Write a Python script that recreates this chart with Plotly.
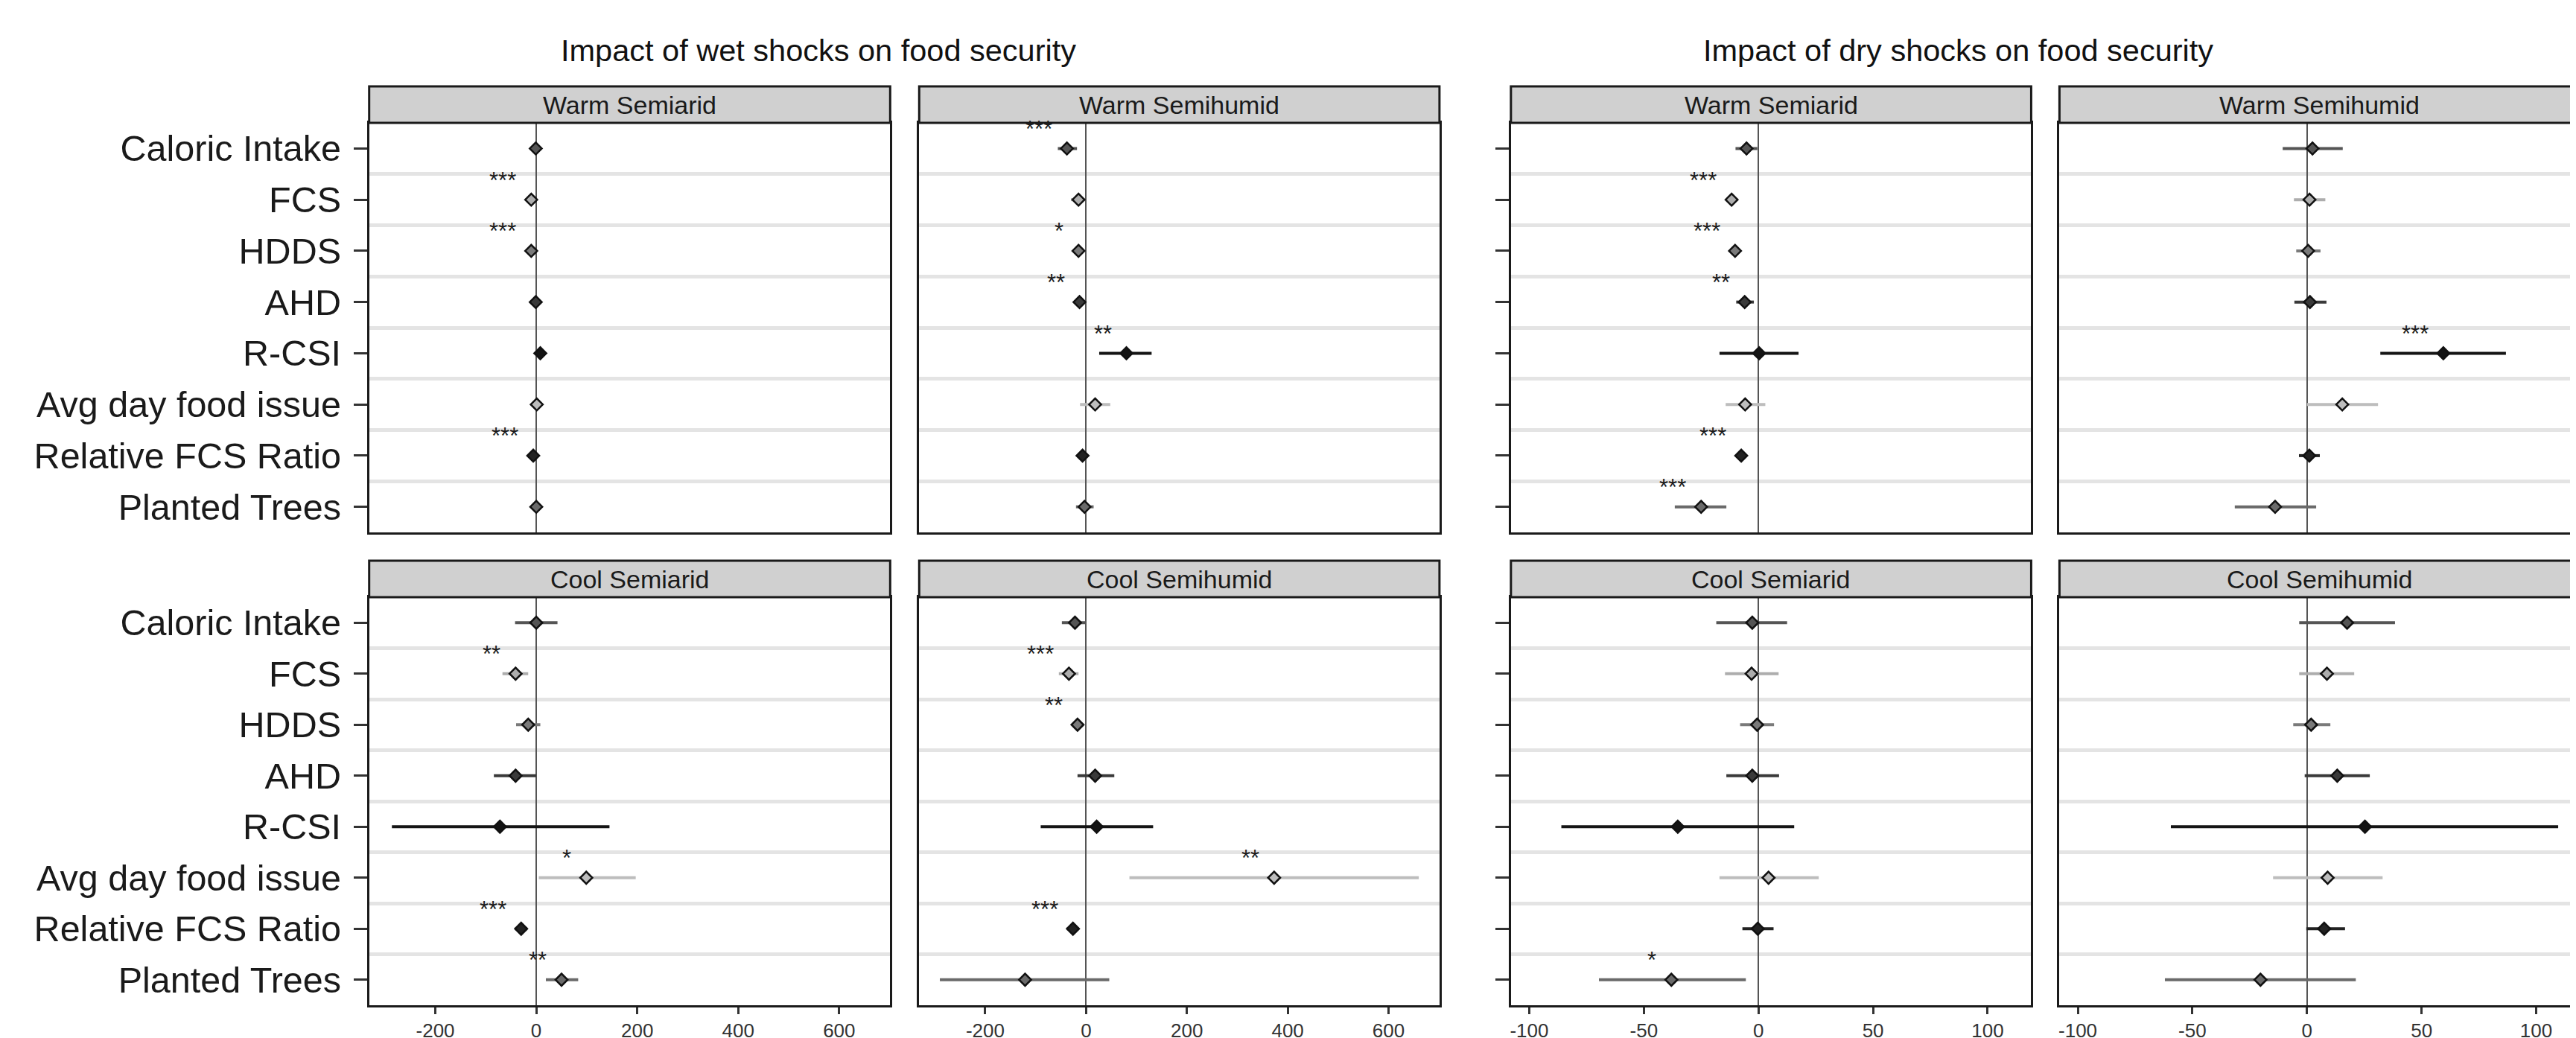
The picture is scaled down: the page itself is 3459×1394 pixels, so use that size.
import plotly.graph_objects as go

W, H = 3459, 1394

categories = ["Caloric Intake", "FCS", "HDDS", "AHD", "R-CSI",
              "Avg day food issue", "Relative FCS Ratio", "Planted Trees"]
category_colors = ["#555555", "#adadad", "#7a7a7a", "#3a3a3a",
                   "#141414", "#bdbdbd", "#222222", "#6a6a6a"]

wet_ticks = [-200, 0, 200, 400, 600]
dry_ticks = [-100, -50, 0, 50, 100]

group_titles = ["Impact of wet shocks on food security",
                "Impact of dry shocks on food security"]
panel_titles = ["Warm Semiarid", "Warm Semihumid", "Cool Semiarid", "Cool Semihumid"]

# ---- Wet shocks ----
wet_warm_semiarid_est = [-1, -10, -10, -1, 8, 1, -6, 0]
wet_warm_semiarid_lo = [-5, -15, -14, -5, 0, -4, -10, -5]
wet_warm_semiarid_hi = [3, -5, -6, 3, 16, 6, -2, 5]
wet_warm_semiarid_sig = ["", "***", "***", "", "", "", "***", ""]

wet_warm_semihumid_est = [-38, -15, -15, -13, 80, 18, -7, -3]
wet_warm_semihumid_lo = [-56, -30, -22, -20, 26, -12, -14, -20]
wet_warm_semihumid_hi = [-18, -2, -8, -6, 130, 48, 0, 15]
wet_warm_semihumid_sig = ["***", "", "*", "**", "**", "", "", ""]

wet_cool_semiarid_est = [0, -41, -16, -41, -72, 99, -30, 50]
wet_cool_semiarid_lo = [-42, -67, -40, -84, -286, 5, -42, 19]
wet_cool_semiarid_hi = [42, -16, 8, 0, 145, 197, -18, 83]
wet_cool_semiarid_sig = ["", "**", "", "", "", "*", "***", "**"]

wet_cool_semihumid_est = [-22, -34, -17, 18, 21, 373, -26, -121]
wet_cool_semihumid_lo = [-48, -54, -28, -17, -90, 86, -38, -290]
wet_cool_semihumid_hi = [0, -15, -6, 56, 133, 660, -15, 46]
wet_cool_semihumid_sig = ["", "***", "**", "", "", "**", "***", ""]

# ---- Dry shocks ----
dry_warm_semiarid_est = [-5.2, -11.7, -10.2, -6, 0.3, -5.8, -7.5, -25]
dry_warm_semiarid_lo = [-10, -14, -12, -9.7, -17, -14.3, -9.5, -36.5]
dry_warm_semiarid_hi = [-0.5, -9, -8.5, -2, 17.5, 3, -5.5, -14]
dry_warm_semiarid_sig = ["", "***", "***", "**", "", "", "***", "***"]

dry_warm_semihumid_est = [2.4, 1.1, 0.5, 1.3, 59.5, 15.4, 1, -13.9]
dry_warm_semihumid_lo = [-10.6, -5.7, -4.7, -5.5, 32, 0, -3.5, -31.5]
dry_warm_semihumid_hi = [15.6, 8, 5.9, 8.5, 86.8, 31, 5.6, 4]
dry_warm_semihumid_sig = ["", "", "", "", "***", "", "", ""]

dry_cool_semiarid_est = [-2.7, -3, -0.6, -2.7, -35.2, 4.4, -0.3, -38]
dry_cool_semiarid_lo = [-18.4, -14.6, -8, -14, -86, -17, -7, -69.6]
dry_cool_semiarid_hi = [12.5, 8.8, 6.8, 9, 15.6, 26.3, 6.6, -5.5]
dry_cool_semiarid_sig = ["", "", "", "", "", "", "", "*"]

dry_cool_semihumid_est = [17.5, 8.7, 1.8, 13.2, 25.3, 9, 7.5, -20.3]
dry_cool_semihumid_lo = [-3.4, -3.4, -6, -1, -59.4, -14.8, -0.3, -62]
dry_cool_semihumid_hi = [38.4, 20.6, 10.2, 27.4, 109.6, 33, 16.6, 21.3]
dry_cool_semihumid_sig = ["", "", "", "", "", "", "", ""]

wet_range = [-331, 701]
dry_range = [-108, 119]

# panels: (row, col, est, lo, hi, sig, ticks, range, title)
panels = [
    (0, 0, wet_warm_semiarid_est, wet_warm_semiarid_lo, wet_warm_semiarid_hi, wet_warm_semiarid_sig, wet_ticks, wet_range, panel_titles[0]),
    (0, 1, wet_warm_semihumid_est, wet_warm_semihumid_lo, wet_warm_semihumid_hi, wet_warm_semihumid_sig, wet_ticks, wet_range, panel_titles[1]),
    (0, 2, dry_warm_semiarid_est, dry_warm_semiarid_lo, dry_warm_semiarid_hi, dry_warm_semiarid_sig, dry_ticks, dry_range, panel_titles[0]),
    (0, 3, dry_warm_semihumid_est, dry_warm_semihumid_lo, dry_warm_semihumid_hi, dry_warm_semihumid_sig, dry_ticks, dry_range, panel_titles[1]),
    (1, 0, wet_cool_semiarid_est, wet_cool_semiarid_lo, wet_cool_semiarid_hi, wet_cool_semiarid_sig, wet_ticks, wet_range, panel_titles[2]),
    (1, 1, wet_cool_semihumid_est, wet_cool_semihumid_lo, wet_cool_semihumid_hi, wet_cool_semihumid_sig, wet_ticks, wet_range, panel_titles[3]),
    (1, 2, dry_cool_semiarid_est, dry_cool_semiarid_lo, dry_cool_semiarid_hi, dry_cool_semiarid_sig, dry_ticks, dry_range, panel_titles[2]),
    (1, 3, dry_cool_semihumid_est, dry_cool_semihumid_lo, dry_cool_semihumid_hi, dry_cool_semihumid_sig, dry_ticks, dry_range, panel_titles[3]),
]

# layout geometry (pixels)
col_x = [(487, 1187), (1226, 1925), (2021, 2720), (2758, 3457)]
row_panel_y = [(157, 707), (794, 1342)]
row_strip_y = [(108, 157), (745, 794)]
title_x = [1091, 2622]
title_y = 59

FONT = "Liberation Sans, Arial, Helvetica, sans-serif"

def fx(px):
    return px / W

def fy(py):
    return 1 - py / H

fig = go.Figure()
layout = dict(
    width=W, height=H,
    margin=dict(l=0, r=0, t=0, b=0),
    paper_bgcolor="white", plot_bgcolor="white",
    showlegend=False,
    font=dict(family=FONT, color="#1a1a1a"),
)
shapes = []
annotations = []
ypos = list(range(len(categories)))
half = [i + 0.5 for i in range(len(categories) - 1)]

for k, (r, c, est, lo, hi, sig, ticks, xr, ptitle) in enumerate(panels):
    n = k + 1
    xa = "x" if n == 1 else f"x{n}"
    ya = "y" if n == 1 else f"y{n}"
    xkey = "xaxis" if n == 1 else f"xaxis{n}"
    ykey = "yaxis" if n == 1 else f"yaxis{n}"
    x0, x1 = col_x[c]
    y0, y1 = row_panel_y[r]
    bottom = (r == 1)
    layout[xkey] = dict(
        domain=[fx(x0), fx(x1)], anchor=ya, range=xr,
        tickvals=ticks, ticktext=[str(t) for t in ticks],
        showticklabels=bottom, ticks="outside" if bottom else "",
        ticklen=9, tickwidth=3, tickcolor="#333333",
        tickfont=dict(size=26, color="#333333", family=FONT),
        showgrid=False, zeroline=True, zerolinecolor="#555555", zerolinewidth=2,
        showline=True, mirror=True, linecolor="#1a1a1a", linewidth=3,
        fixedrange=True,
    )
    left_col = c in (0, 2)
    layout[ykey] = dict(
        domain=[fy(y1), fy(y0)], anchor=xa, range=[len(categories) - 0.5, -0.5],
        tickvals=ypos, ticktext=categories,
        showticklabels=(c == 0), ticks="outside" if left_col else "",
        ticklen=18, tickwidth=3, tickcolor="#333333",
        tickfont=dict(size=48.5, color="#1a1a1a", family=FONT),
        ticklabelstandoff=7,
        showgrid=False, zeroline=False,
        minor=dict(tickvals=half, showgrid=True, gridcolor="#e4e4e4", gridwidth=4.5, ticks=""),
        showline=True, mirror=True, linecolor="#1a1a1a", linewidth=3,
        fixedrange=True,
    )
    for i, cat in enumerate(categories):
        fig.add_trace(go.Scatter(
            x=[est[i]], y=[i], xaxis=xa, yaxis=ya, mode="markers",
            marker=dict(symbol="diamond", size=12.5, color=category_colors[i],
                        line=dict(color="#111111", width=2.5)),
            error_x=dict(type="data", symmetric=False,
                         array=[hi[i] - est[i]], arrayminus=[est[i] - lo[i]],
                         color=category_colors[i], thickness=4, width=0),
            hoverinfo="skip", cliponaxis=False,
        ))
        if sig[i]:
            annotations.append(dict(
                x=est[i], y=i, xref=xa, yref=ya, text=sig[i], showarrow=False,
                xanchor="right", yanchor="middle", xshift=-18, yshift=26,
                font=dict(size=31, color="#1a1a1a", family=FONT),
            ))
    # strip
    sy0, sy1 = row_strip_y[r]
    shapes.append(dict(type="rect", xref="paper", yref="paper",
                       x0=fx(x0), x1=fx(x1), y0=fy(sy1), y1=fy(sy0),
                       fillcolor="#d0d0d0", line=dict(color="#1a1a1a", width=3),
                       layer="above"))
    annotations.append(dict(x=fx((x0 + x1) / 2), y=fy((sy0 + sy1) / 2), xref="paper", yref="paper",
                            text=ptitle, showarrow=False, xanchor="center", yanchor="middle",
                            font=dict(size=34, color="#1a1a1a", family=FONT)))

for g, t in enumerate(group_titles):
    annotations.append(dict(x=fx(title_x[g]), y=fy(title_y), xref="paper", yref="paper",
                            text=t, showarrow=False, xanchor="center", yanchor="middle",
                            font=dict(size=41.5, color="#111111", family=FONT)))

layout["shapes"] = shapes
layout["annotations"] = annotations
fig.update_layout(**layout)
fig.write_html("out.html", config={"displayModeBar": False})
